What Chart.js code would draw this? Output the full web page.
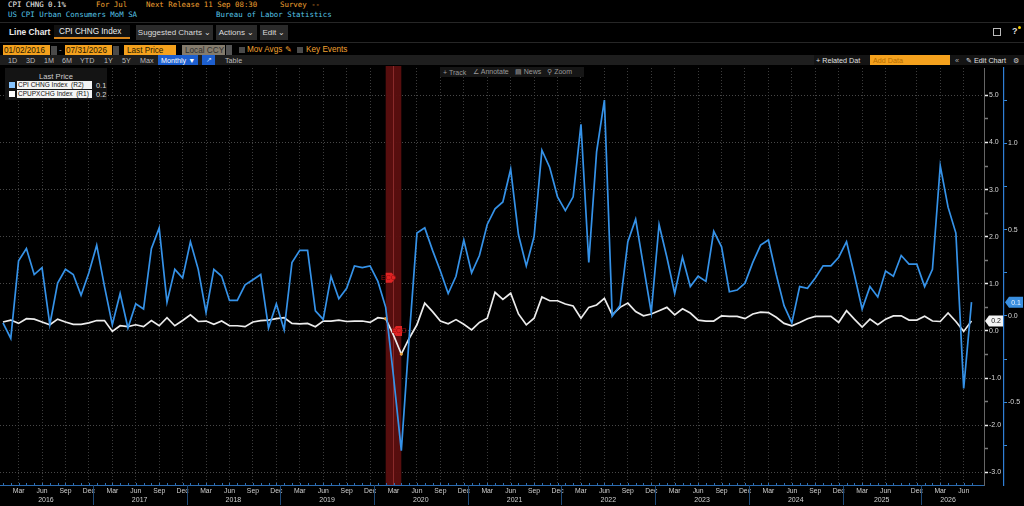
<!DOCTYPE html>
<html>
<head>
<meta charset="utf-8">
<script src="https://cdn.jsdelivr.net/npm/chart.js@4.4.1/dist/chart.umd.min.js"></script>
<style>
body{margin:0;background:#000;width:1024px;height:506px;overflow:hidden;position:relative;font-family:'Liberation Sans',Arial,sans-serif}
.a{position:absolute;white-space:nowrap;line-height:1}
.m{font-family:'DejaVu Sans Mono',monospace;font-size:7.4px}
.o{color:#f0a030}
.cy{color:#55c4e6}
.box{position:absolute;display:flex;align-items:center;white-space:nowrap;font-size:8px;box-sizing:border-box}
.hr{position:absolute;left:0;width:1024px;height:1px;background:#262626}
.btn{position:absolute;top:57px;font-size:7.2px;color:#bdbdbd;line-height:1}
#c{position:absolute;left:0;top:66px;z-index:1}
.ov{z-index:2}
</style>
</head>
<body>
<!-- header lines -->
<div class="a m" style="left:8px;top:1px;color:#f2f2f2">CPI CHNG 0.1%</div>
<div class="a m o" style="left:96px;top:1px">For Jul</div>
<div class="a m o" style="left:146px;top:1px">Next Release 11 Sep 08:30</div>
<div class="a m o" style="left:280px;top:1px">Survey --</div>
<div class="a m cy" style="left:8px;top:11px">US CPI Urban Consumers MoM SA</div>
<div class="a m cy" style="left:216px;top:11px">Bureau of Labor Statistics</div>
<div class="hr" style="top:22px"></div>

<div class="a" style="left:9px;top:28px;font-size:8.4px;color:#e8e8e8;font-weight:bold">Line Chart</div>
<div class="box" style="left:54px;top:25px;width:76px;height:14px;background:#111;border-bottom:2px solid #d9861c;color:#eee;padding-left:5px;font-size:8.2px">CPI CHNG Index</div>
<div class="box" style="left:136px;top:25px;width:77px;height:15px;background:#2a2a2a;color:#dcdcdc;justify-content:center">Suggested Charts &#8964;</div>
<div class="box" style="left:216px;top:25px;width:41px;height:15px;background:#2a2a2a;color:#dcdcdc;justify-content:center">Actions &#8964;</div>
<div class="box" style="left:260px;top:25px;width:28px;height:15px;background:#2a2a2a;color:#dcdcdc;justify-content:center">Edit &#8964;</div>
<div class="box" style="left:993px;top:28px;width:8px;height:8px;border:1px solid #bbb"></div>
<div class="a" style="left:1012px;top:27px;font-size:9px;color:#ddd;font-weight:bold">?</div>
<div class="a" style="left:1018px;top:26px;width:3px;height:3px;background:#f5d000;border-radius:2px"></div>
<div class="hr" style="top:42px"></div>

<div class="box" style="left:3px;top:45px;width:47px;height:11px;background:#f4a11d;color:#2a1a00;padding-left:1px;font-size:8.2px">01/02/2016</div>
<div class="box" style="left:51px;top:46px;width:6px;height:9px;background:#4a4a4a"></div>
<div class="a" style="left:59px;top:46px;font-size:8px;color:#aaa">-</div>
<div class="box" style="left:65px;top:45px;width:47px;height:11px;background:#f4a11d;color:#2a1a00;padding-left:1px;font-size:8.2px">07/31/2026</div>
<div class="box" style="left:113px;top:46px;width:6px;height:9px;background:#4a4a4a"></div>
<div class="box" style="left:124px;top:45px;width:52px;height:11px;background:#f4a11d;color:#2a1a00;padding-left:3px;font-size:8.2px">Last Price</div>
<div class="box" style="left:182px;top:45px;width:43px;height:11px;background:#847b6c;color:#2e2e2e;padding-left:3px;font-size:8.2px">Local CCY</div>
<div class="box" style="left:226px;top:45px;width:6px;height:11px;background:#555"></div>
<div class="box" style="left:239px;top:47px;width:6px;height:6px;background:#4a4a4a"></div>
<div class="a o" style="left:247px;top:46px;font-size:8.2px">Mov Avgs &#9998;</div>
<div class="box" style="left:297px;top:47px;width:6px;height:6px;background:#4a4a4a"></div>
<div class="a o" style="left:306px;top:46px;font-size:8.2px">Key Events</div>

<div class="box" style="left:0;top:55px;width:814px;height:10px;background:#1e1e1e"></div>
<div class="btn" style="left:8px">1D</div>
<div class="btn" style="left:26px">3D</div>
<div class="btn" style="left:44px">1M</div>
<div class="btn" style="left:62px">6M</div>
<div class="btn" style="left:80px">YTD</div>
<div class="btn" style="left:104px">1Y</div>
<div class="btn" style="left:122px">5Y</div>
<div class="btn" style="left:140px">Max</div>
<div class="box" style="left:158px;top:55px;width:40px;height:10px;background:#1d5fcf;color:#fff;font-size:7.2px;padding-left:3px">Monthly &#9660;</div>
<div class="box" style="left:202px;top:55px;width:13px;height:10px;background:#1d5fcf;color:#cfe0ff;font-size:7px;justify-content:center">&#8599;</div>
<div class="btn" style="left:225px">Table</div>
<div class="box" style="left:814px;top:55px;width:210px;height:10px;background:#141414"></div>
<div class="btn" style="left:816px;color:#e0e0e0">+ Related Dat</div>
<div class="box" style="left:870px;top:55px;width:80px;height:10px;background:#f4a11d;color:#b56c00;font-size:7.2px;padding-left:3px">Add Data</div>
<div class="btn" style="left:955px;color:#aaa">&#171;</div>
<div class="btn" style="left:966px;color:#e0e0e0">&#9998; Edit Chart</div>
<div class="btn" style="left:1013px;color:#ccc">&#9881;</div>

<canvas id="c" width="1024" height="440"></canvas>

<!-- in-chart toolbar and legend -->
<div class="box ov" style="left:440px;top:67px;width:144px;height:10px;background:#161616;color:#9a9a9a;font-size:7px">
  <span style="margin-left:3px">+ Track</span><span style="margin-left:7px">&#8736; Annotate</span><span style="margin-left:6px">&#9636; News</span><span style="margin-left:6px">&#9906; Zoom</span>
</div>
<div class="a ov" style="left:5px;top:68px;width:102px;height:32px;background:#141414">
  <div class="a" style="left:0;width:102px;top:5px;text-align:center;color:#cfcfcf;font-size:7.6px">Last Price</div>
  <div class="a" style="left:4px;top:14px;width:6px;height:6px;background:#86c4ff"></div>
  <div class="box" style="left:12px;top:13px;width:75px;height:8px;background:#f4f4f4;color:#111;font-size:6.5px;padding-left:1px">CPI CHNG Index&nbsp;&nbsp;(R2)</div>
  <div class="a" style="left:91px;top:13.5px;color:#ddd;font-size:7.4px">0.1</div>
  <div class="a" style="left:4px;top:23px;width:6px;height:6px;background:#fff"></div>
  <div class="box" style="left:12px;top:22px;width:75px;height:8px;background:#f4f4f4;color:#111;font-size:6.5px;padding-left:1px">CPUPXCHG Index&nbsp;&nbsp;(R1)</div>
  <div class="a" style="left:91px;top:22.5px;color:#ddd;font-size:7.4px">0.2</div>
</div>

<script>
// periods on the x axis (Oct/Nov 2025 have no print)
var monthAbbr = ['Jan','Feb','Mar','Apr','May','Jun','Jul','Aug','Sep','Oct','Nov','Dec'];
var years = [2016,2017,2018,2019,2020,2021,2022,2023,2024,2025,2026];
var missingPeriods = ['Oct 2025','Nov 2025'];
var lastPeriod = 'Jul 2026';

// CPI CHNG Index (R2) - headline CPI MoM %
var cpiChng = [
  -0.04,-0.13,0.32,0.39,0.24,0.28,-0.05,0.19,0.27,0.24,0.12,0.25,
  0.41,0.17,-0.05,0.13,-0.07,0.07,0.04,0.39,0.51,0.08,0.27,0.22,
  0.43,0.27,0.02,0.27,0.23,0.09,0.09,0.18,0.21,0.24,-0.07,0.07,
  -0.08,0.31,0.38,0.38,0.03,-0.02,0.23,0.10,0.16,0.29,0.28,0.29,
  0.20,0.05,-0.35,-0.78,-0.13,0.48,0.51,0.38,0.26,0.13,0.23,0.44,
  0.25,0.35,0.53,0.62,0.66,0.85,0.47,0.29,0.46,0.96,0.86,0.69,
  0.61,0.69,1.11,0.31,0.95,1.25,0.00,0.06,0.43,0.56,0.29,0.02,
  0.53,0.34,0.13,0.34,0.17,0.23,0.20,0.49,0.40,0.14,0.15,0.19,
  0.31,0.41,0.44,0.24,0.06,-0.04,0.17,0.16,0.22,0.29,0.29,0.34,
  0.43,0.24,0.04,0.17,0.11,0.26,0.23,0.35,0.30,
  0.30,
  0.17,0.27,0.87,0.63,0.48,-0.42,0.08
];
// CPUPXCHG Index (R1) - core CPI MoM %
var cpupxChng = [
  0.19,0.23,0.16,0.26,0.25,0.19,0.13,0.25,0.19,0.14,0.14,0.17,
  0.22,0.22,-0.01,0.11,0.09,0.13,0.09,0.22,0.11,0.28,0.11,0.22,
  0.34,0.20,0.21,0.14,0.21,0.11,0.11,0.09,0.19,0.22,0.23,0.26,
  0.28,0.16,0.15,0.16,0.09,0.21,0.21,0.23,0.20,0.21,0.21,0.18,
  0.28,0.26,-0.09,-0.49,-0.16,0.13,0.59,0.41,0.21,0.15,0.24,0.14,
  0.02,0.18,0.27,0.82,0.67,0.80,0.36,0.13,0.27,0.72,0.64,0.64,
  0.57,0.53,0.27,0.50,0.55,0.69,0.34,0.50,0.59,0.41,0.32,0.36,
  0.43,0.50,0.34,0.47,0.38,0.23,0.21,0.21,0.32,0.31,0.31,0.26,
  0.36,0.40,0.39,0.29,0.16,0.11,0.18,0.26,0.31,0.31,0.31,0.18,
  0.43,0.25,0.08,0.25,0.13,0.25,0.32,0.32,0.23,
  0.23,
  0.31,0.21,0.20,0.38,0.20,-0.01,0.21
];

var r1Ticks = [-3,-2.5,-2,-1.5,-1,-0.5,0,0.5,1,1.5,2,2.5,3,3.5,4,4.5,5];
var r2Ticks = [-0.75,-0.5,-0.25,0,0.25,0.5,0.75,1,1.25];
var recession = ['Feb 2020','Apr 2020'];
var eventTags = [
  {period:'Feb 2020', value:1.13, dir:'right'},
  {period:'Mar 2020', value:0.0, dir:'left'}
];

var periods = [];
var done = false;
years.forEach(function (y) {
  monthAbbr.forEach(function (m) {
    var p = m + ' ' + y;
    if (done || missingPeriods.indexOf(p) >= 0) return;
    periods.push(p);
    if (p === lastPeriod) done = true;
  });
});

var X_MIN = -0.38;
var X_MAX = periods.length - 1 + 1.6;

var quarterIdx = [];
periods.forEach(function (p, i) {
  if (['Mar','Jun','Sep','Dec'].indexOf(p.slice(0, 3)) >= 0) quarterIdx.push(i);
});
var monthTicks = quarterIdx.filter(function (v, k) {
  return k === quarterIdx.length - 1 || quarterIdx[k + 1] - v >= 2;
});
var yearFirst = [];
var yearTicks = years.map(function (y) {
  var idx = [];
  periods.forEach(function (p, i) { if (p.slice(-4) === String(y)) idx.push(i); });
  yearFirst.push(idx[0]);
  var a = idx[0] - 0.5, b = Math.min(idx[idx.length - 1] + 0.5, X_MAX);
  return {value: (a + b) / 2, label: String(y)};
});

var F = "'Liberation Sans', Arial, sans-serif";

function drawTag(ctx, x, y, w, h, dir, fill, text, color) {
  ctx.beginPath();
  if (dir === 'left') {
    ctx.moveTo(x, y); ctx.lineTo(x + 4, y - h / 2); ctx.lineTo(x + w, y - h / 2);
    ctx.lineTo(x + w, y + h / 2); ctx.lineTo(x + 4, y + h / 2);
  } else {
    ctx.moveTo(x, y - h / 2); ctx.lineTo(x + w - 4, y - h / 2); ctx.lineTo(x + w, y);
    ctx.lineTo(x + w - 4, y + h / 2); ctx.lineTo(x, y + h / 2);
  }
  ctx.closePath();
  ctx.fillStyle = fill;
  ctx.fill();
  if (text) {
    ctx.fillStyle = color;
    ctx.font = '7px ' + F;
    ctx.textAlign = 'center';
    ctx.textBaseline = 'middle';
    ctx.fillText(text, x + w / 2 + (dir === 'left' ? 2 : -2), y + 0.5);
  }
}

var overlay = {
  id: 'overlay',
  beforeDatasetsDraw: function (chart) {
    var ctx = chart.ctx, a = chart.chartArea, x = chart.scales.x;
    var i0 = periods.indexOf(recession[0]), i1 = periods.indexOf(recession[1]);
    var x0 = x.getPixelForValue(i0), x1 = x.getPixelForValue(i1);
    ctx.save();
    ctx.fillStyle = 'rgba(92,15,15,0.95)';
    ctx.fillRect(x0, 0, x1 - x0, a.bottom);
    ctx.strokeStyle = '#8a2a2a';
    ctx.lineWidth = 1;
    var xm = x.getPixelForValue((i0 + i1) / 2);
    ctx.beginPath(); ctx.moveTo(xm, 0); ctx.lineTo(xm, a.bottom); ctx.stroke();
    ctx.restore();
  },
  afterDatasetsDraw: function (chart) {
    var ctx = chart.ctx, x = chart.scales.x, y1 = chart.scales.y1;
    ctx.save();
    eventTags.forEach(function (e) {
      var px = x.getPixelForValue(periods.indexOf(e.period));
      var py = y1.getPixelForValue(e.value);
      drawTag(ctx, e.dir === 'left' ? px - 1.5 : px, py, 10, 10, e.dir, '#e02424', 'ECO', '#9c1010');
    });
    ctx.restore();
  },
  afterDraw: function (chart) {
    var ctx = chart.ctx, a = chart.chartArea, x = chart.scales.x;
    var y1 = chart.scales.y1, y2 = chart.scales.y2;
    ctx.save();
    // month marks on the axis line
    ctx.strokeStyle = '#2c6cb0';
    ctx.lineWidth = 1;
    periods.forEach(function (p, i) {
      var px = Math.round(x.getPixelForValue(i)) + 0.5;
      ctx.beginPath(); ctx.moveTo(px, a.bottom - 2); ctx.lineTo(px, a.bottom); ctx.stroke();
    });
    // year separators
    ctx.strokeStyle = '#1f4a78';
    yearFirst.slice(1).forEach(function (f) {
      var px = Math.round(x.getPixelForValue(f - 0.5)) + 0.5;
      ctx.beginPath(); ctx.moveTo(px, a.bottom); ctx.lineTo(px, a.bottom + 20); ctx.stroke();
    });
    // last value tags
    var lastCore = cpupxChng[cpupxChng.length - 1];
    var lastCpi = cpiChng[cpiChng.length - 1];
    drawTag(ctx, y1.left + 1, y1.getPixelForValue(lastCore), 18, 11, 'left', '#f4f4f4', lastCore.toFixed(1), '#111');
    drawTag(ctx, y2.left + 1, y2.getPixelForValue(lastCpi), 18, 11, 'left', '#3a8fe0', lastCpi.toFixed(1), '#eaf4ff');
    ctx.restore();
  }
};

new Chart(document.getElementById('c'), {
  type: 'line',
  data: {
    datasets: [
      {
        label: 'CPI CHNG Index  (R2)',
        data: cpiChng.map(function (v, i) { return {x: i, y: v}; }),
        yAxisID: 'y2',
        borderColor: '#3592e8',
        borderWidth: 1.7,
        pointRadius: 0,
        tension: 0
      },
      {
        label: 'CPUPXCHG Index  (R1)',
        data: cpupxChng.map(function (v, i) { return {x: i, y: v}; }),
        yAxisID: 'y1',
        borderColor: '#ececec',
        borderWidth: 1.7,
        pointRadius: function (c) {
          var p = periods[c.dataIndex];
          return recession.indexOf(p) >= 0 ? 1.6 : 0;
        },
        pointBackgroundColor: '#e8a23a',
        pointBorderWidth: 0,
        tension: 0
      }
    ]
  },
  options: {
    responsive: false,
    animation: false,
    events: [],
    layout: {padding: {top: 2, left: 0, right: 0, bottom: 0}},
    plugins: {legend: {display: false}, tooltip: {enabled: false}},
    scales: {
      x: {
        type: 'linear', position: 'bottom', weight: 0, min: X_MIN, max: X_MAX, bounds: 'data',
        afterBuildTicks: function (s) { s.ticks = monthTicks.map(function (v) { return {value: v}; }); },
        afterFit: function (s) { s.height = 11; s.paddingLeft = 0; s.paddingRight = 0; },
        ticks: {
          autoSkip: false, maxRotation: 0, minRotation: 0, padding: 2, color: '#cfcfcf',
          font: {size: 6.8, family: F},
          callback: function (v) { return periods[v] ? periods[v].slice(0, 3) : ''; }
        },
        grid: {color: '#3c3c3c', drawTicks: false},
        border: {color: '#2c6cb0', width: 1, dash: [1, 2]}
      },
      xYear: {
        type: 'linear', position: 'bottom', weight: 1, min: X_MIN, max: X_MAX, bounds: 'data',
        afterBuildTicks: function (s) { s.ticks = yearTicks.map(function (t) { return {value: t.value}; }); },
        afterFit: function (s) { s.height = 10; s.paddingLeft = 0; s.paddingRight = 0; },
        ticks: {
          autoSkip: false, maxRotation: 0, minRotation: 0, padding: 0, color: '#cfcfcf',
          font: {size: 7, family: F},
          callback: function (v, i) { return yearTicks[i] ? yearTicks[i].label : ''; }
        },
        grid: {display: false, drawTicks: false},
        border: {display: false}
      },
      y1: {
        type: 'linear', position: 'right', weight: 0, min: -3.27, max: 5.58,
        afterBuildTicks: function (s) { s.ticks = r1Ticks.map(function (v) { return {value: v}; }); },
        afterFit: function (s) { s.width = 20; s.paddingTop = 0; s.paddingBottom = 0; },
        ticks: {
          autoSkip: false, padding: 1, color: '#d8d8d8', font: {size: 7, family: F},
          callback: function (v) { return Number.isInteger(v) ? v.toFixed(1) : ''; }
        },
        grid: {
          color: function (c) { return c.tick && Number.isInteger(c.tick.value) ? '#484848' : 'rgba(0,0,0,0)'; },
          tickColor: function (c) { return c.tick && Number.isInteger(c.tick.value) ? '#f0f0f0' : '#7a7a7a'; },
          tickLength: 4, tickWidth: 1.5, tickBorderDash: []
        },
        border: {color: '#666', width: 1, dash: [1, 2]}
      },
      y2: {
        type: 'linear', position: 'right', weight: 1, min: -0.979, max: 1.436,
        afterBuildTicks: function (s) { s.ticks = r2Ticks.map(function (v) { return {value: v}; }); },
        afterFit: function (s) { s.width = 20; s.paddingTop = 0; s.paddingBottom = 0; },
        ticks: {
          autoSkip: false, padding: 1, color: '#d8d8d8', font: {size: 7, family: F},
          callback: function (v) { return Math.abs(v * 2 - Math.round(v * 2)) < 1e-9 ? v.toFixed(1) : ''; }
        },
        grid: {drawOnChartArea: false, tickColor: '#3b8ee0', tickLength: 3, tickWidth: 1, tickBorderDash: []},
        border: {color: '#2f7fd6', width: 1.2}
      }
    }
  },
  plugins: [overlay]
});
</script>
</body>
</html>
